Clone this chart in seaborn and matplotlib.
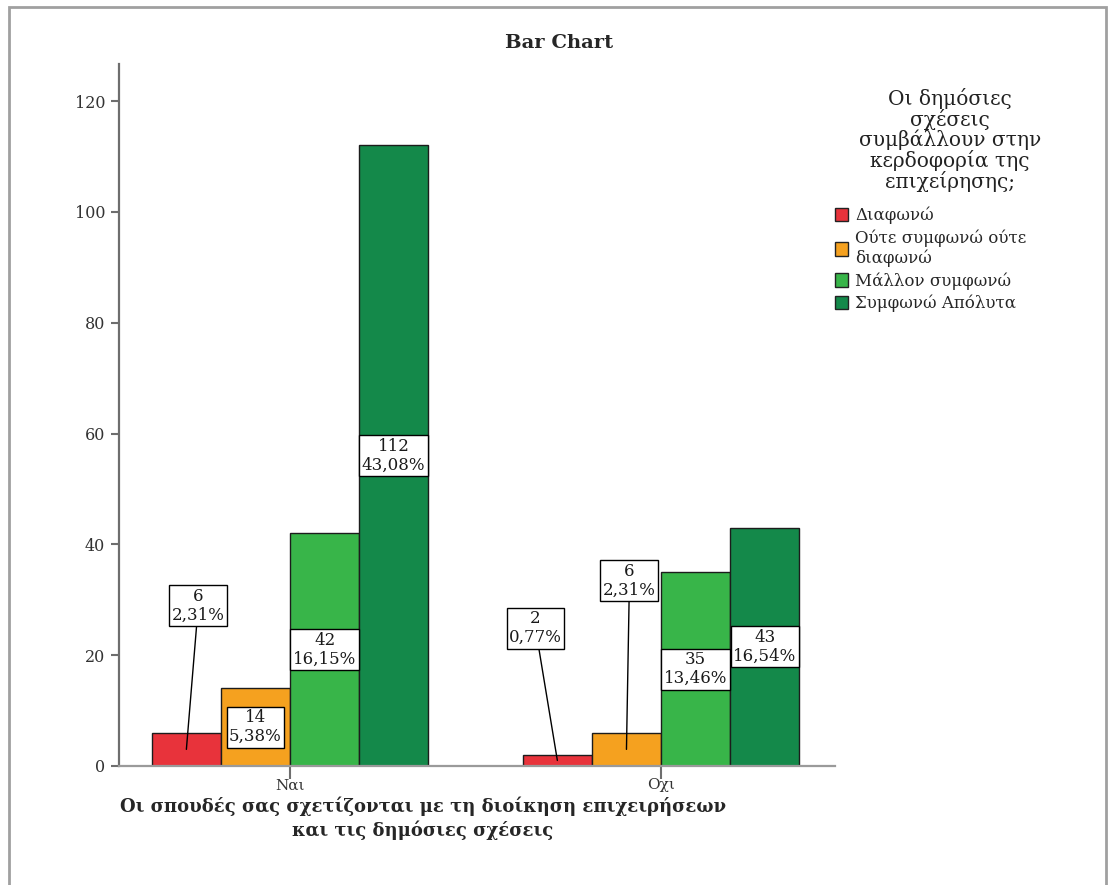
import matplotlib
matplotlib.use("Agg")
import matplotlib.pyplot as plt
import seaborn as sns
import pandas as pd
from matplotlib.patches import Patch, Rectangle

# Categories and counts
studies = ["Ναι", "Οχι"]
opinions = ["Διαφωνώ", "Ούτε συμφωνώ ούτε διαφωνώ", "Μάλλον συμφωνώ", "Συμφωνώ Απόλυτα"]
legend_labels = ["Διαφωνώ", "Ούτε συμφωνώ ούτε\nδιαφωνώ", "Μάλλον συμφωνώ", "Συμφωνώ Απόλυτα"]
counts_nai = [6, 14, 42, 112]
counts_oxi = [2, 6, 35, 43]
y_ticks = [0, 20, 40, 60, 80, 100, 120]

colors = ["#e8333b", "#f5a11f", "#38b549", "#14894a"]

title = "Bar Chart"
x_title = "Οι σπουδές σας σχετίζονται με τη διοίκηση επιχειρήσεων\nκαι τις δημόσιες σχέσεις"
legend_title = "Οι δημόσιες\nσχέσεις\nσυμβάλλουν στην\nκερδοφορία της\nεπιχείρησης;"

rows = []
for study, counts in zip(studies, [counts_nai, counts_oxi]):
    for op, c in zip(opinions, counts):
        rows.append({"study": study, "opinion": op, "count": c})
df = pd.DataFrame(rows)
total = df["count"].sum()

sns.set_theme(style="white")
plt.rcParams["font.family"] = ["DejaVu Serif", "Liberation Serif"]

fig = plt.figure(figsize=(11.08, 8.85), dpi=100)
ax = fig.add_axes([119 / 1108, 1 - 766 / 885, (835 - 119) / 1108, (766 - 64) / 885])

sns.barplot(data=df, x="study", y="count", hue="opinion", order=studies,
            hue_order=opinions, palette=colors, width=0.745, saturation=1,
            edgecolor="#1c1c1c", linewidth=1, legend=False, errorbar=None, ax=ax)

ax.set_xlim(-0.461, 1.469)
ax.set_ylim(0, 126.7)
ax.set_yticks(y_ticks)
ax.set_xlabel("")
ax.set_ylabel("")
for side in ["top", "right"]:
    ax.spines[side].set_visible(False)
ax.spines["left"].set_color("#6e6e6e")
ax.spines["bottom"].set_color("#9a9a9a")
ax.spines["left"].set_linewidth(1.6)
ax.spines["bottom"].set_linewidth(1.6)
ax.tick_params(axis="both", which="major", width=1.5, color="#6e6e6e",
               labelcolor="#333333", bottom=True, left=True)
ax.tick_params(axis="y", labelsize=11.5, length=6, pad=4)
ax.tick_params(axis="x", labelsize=11, length=9, pad=0)

# Value boxes: label offsets for bars too short to hold their box
outside = {("Ναι", 0): (0.032, 28.9), ("Οχι", 0): (-0.059, 24.9), ("Οχι", 1): (0.008, 33.4)}
for hi, container in enumerate(ax.containers):
    for si, bar in enumerate(container):
        v = bar.get_height()
        xc = bar.get_x() + bar.get_width() / 2
        txt = f"{int(round(v))}\n{v / total * 100:.2f}%".replace(".", ",")
        box = dict(boxstyle="square,pad=0.15", fc="white", ec="black", lw=1)
        key = (studies[si], hi)
        if key in outside:
            dx, ty = outside[key]
            ax.annotate(txt, xy=(xc, v / 2), xytext=(xc + dx, ty), ha="center", va="center",
                        fontsize=12, linespacing=1.15, bbox=box, zorder=5, color="#1a1a1a",
                        arrowprops=dict(arrowstyle="-", color="black", lw=1, shrinkA=0, shrinkB=0))
        else:
            ax.text(xc, v / 2, txt, ha="center", va="center", fontsize=12, color="#1a1a1a",
                    linespacing=1.15, bbox=box, zorder=5)

fig.text(559 / 1108, 1 - 43 / 885, title, ha="center", va="center",
         fontsize=14, fontweight="bold")
fig.text(423 / 1108, 1 - 797 / 885, x_title, ha="center", va="top",
         multialignment="center", fontsize=13, fontweight="bold", linespacing=1.25)
fig.text(950 / 1108, 1 - 140 / 885, legend_title, ha="center", va="center",
         multialignment="center", fontsize=14.5, linespacing=1.0, color="#222222")

handles = [Patch(facecolor=c, edgecolor="#222222", lw=1) for c in colors]
ax.legend(handles=handles, labels=legend_labels, loc="upper left",
          bbox_to_anchor=(835 / 1108, 1 - 207 / 885), bbox_transform=fig.transFigure,
          frameon=False, fontsize=12, handlelength=0.75, handleheight=0.85,
          handletextpad=0.45, labelspacing=0.3, borderpad=0, borderaxespad=0)

fig.patches.append(Rectangle((9 / 1108, -0.01), (1106 - 9) / 1108, 1.01 - 7 / 885,
                             transform=fig.transFigure, fill=False,
                             edgecolor="#a0a0a0", lw=2))

fig.savefig("out.png", dpi=100, facecolor="white")
